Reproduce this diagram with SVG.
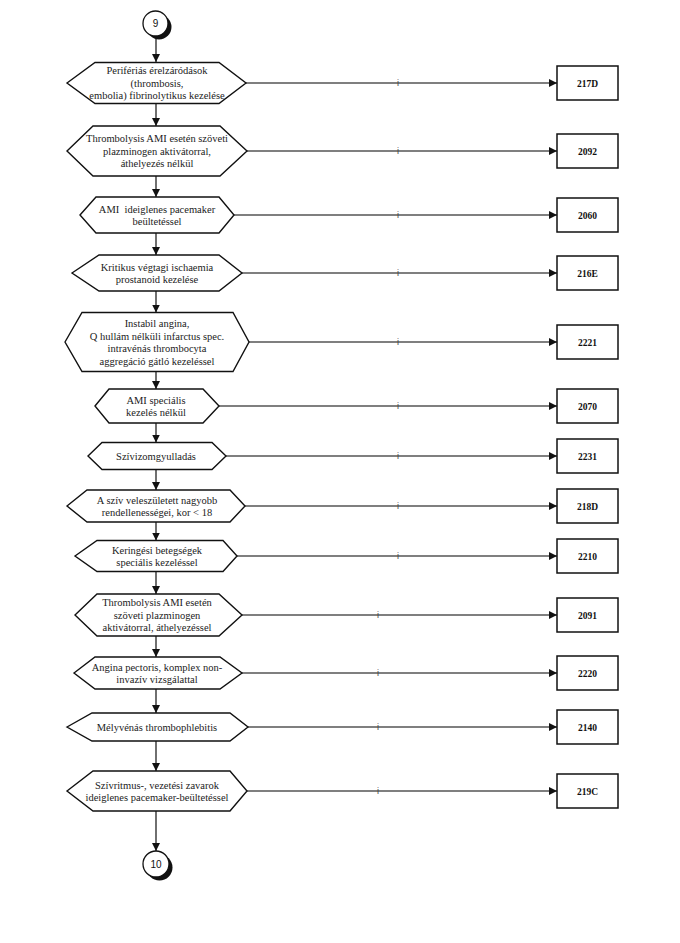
<svg xmlns="http://www.w3.org/2000/svg" width="680" height="943" viewBox="0 0 680 943">
<style>
.hex{fill:#fff;stroke:#111;stroke-width:1.4}
.t{font-family:"Liberation Serif","Times New Roman",serif;font-size:10.5px;fill:#222;text-anchor:middle}
.box{fill:#fff;stroke:#111;stroke-width:1.5}
.bt{font-family:"Liberation Serif","Times New Roman",serif;font-size:9.5px;font-weight:bold;fill:#111;text-anchor:middle}
.spine{stroke:#222;stroke-width:1.3;fill:none}
.link{stroke:#555;stroke-width:1.4;fill:none}
.i{font-family:"Liberation Sans",Arial,sans-serif;font-size:9px;fill:#444;text-anchor:middle}
.ct{font-family:"Liberation Sans",Arial,sans-serif;font-size:10px;fill:#111;text-anchor:middle}
</style>
<defs>
<marker id="ah" viewBox="0 0 10 10" refX="10" refY="5" markerWidth="8" markerHeight="8" markerUnits="userSpaceOnUse" orient="auto">
<path d="M0,0 L10,5 L0,10 Z" fill="#111"/>
</marker>
</defs>

<g id="connectors">
<line class="spine" x1="156" y1="36" x2="156" y2="62" marker-end="url(#ah)"/>
<line class="spine" x1="156" y1="103.5" x2="156" y2="126" marker-end="url(#ah)"/>
<line class="spine" x1="156" y1="176" x2="156" y2="197" marker-end="url(#ah)"/>
<line class="spine" x1="156" y1="233" x2="156" y2="255" marker-end="url(#ah)"/>
<line class="spine" x1="156" y1="291" x2="156" y2="312.5" marker-end="url(#ah)"/>
<line class="spine" x1="156" y1="371.5" x2="156" y2="389" marker-end="url(#ah)"/>
<line class="spine" x1="156" y1="423" x2="156" y2="442.5" marker-end="url(#ah)"/>
<line class="spine" x1="156" y1="469.5" x2="156" y2="490" marker-end="url(#ah)"/>
<line class="spine" x1="156" y1="522" x2="156" y2="540.5" marker-end="url(#ah)"/>
<line class="spine" x1="156" y1="571.5" x2="156" y2="594" marker-end="url(#ah)"/>
<line class="spine" x1="156" y1="636" x2="156" y2="657" marker-end="url(#ah)"/>
<line class="spine" x1="156" y1="689" x2="156" y2="713" marker-end="url(#ah)"/>
<line class="spine" x1="156" y1="741" x2="156" y2="771" marker-end="url(#ah)"/>
<line class="spine" x1="156" y1="811" x2="156" y2="851" marker-end="url(#ah)"/>

<line class="link" x1="246" y1="83" x2="557" y2="83" marker-end="url(#ah)"/>
<line class="link" x1="247" y1="151" x2="557" y2="151" marker-end="url(#ah)"/>
<line class="link" x1="234" y1="215" x2="557" y2="215" marker-end="url(#ah)"/>
<line class="link" x1="242" y1="273" x2="557" y2="273" marker-end="url(#ah)"/>
<line class="link" x1="249" y1="342" x2="557" y2="342" marker-end="url(#ah)"/>
<line class="link" x1="219" y1="406" x2="557" y2="406" marker-end="url(#ah)"/>
<line class="link" x1="226" y1="456" x2="557" y2="456" marker-end="url(#ah)"/>
<line class="link" x1="245" y1="506" x2="557" y2="506" marker-end="url(#ah)"/>
<line class="link" x1="237" y1="556" x2="557" y2="556" marker-end="url(#ah)"/>
<line class="link" x1="242" y1="615" x2="557" y2="615" marker-end="url(#ah)"/>
<line class="link" x1="242" y1="673" x2="557" y2="673" marker-end="url(#ah)"/>
<line class="link" x1="248" y1="727" x2="557" y2="727" marker-end="url(#ah)"/>
<line class="link" x1="247" y1="791" x2="557" y2="791" marker-end="url(#ah)"/>

<text class="i" x="398" y="86">i</text>
<text class="i" x="398" y="154">i</text>
<text class="i" x="398" y="218">i</text>
<text class="i" x="398" y="276">i</text>
<text class="i" x="398" y="345">i</text>
<text class="i" x="398" y="409">i</text>
<text class="i" x="398" y="459">i</text>
<text class="i" x="398" y="509">i</text>
<text class="i" x="398" y="559">i</text>
<text class="i" x="378" y="618">i</text>
<text class="i" x="378" y="676">i</text>
<text class="i" x="378" y="730">i</text>
<text class="i" x="378" y="794">i</text>
</g>

<g id="c9">
<circle cx="159" cy="27" r="12.5" fill="#111"/>
<circle cx="155.5" cy="23.5" r="12.5" fill="#fff" stroke="#111" stroke-width="1.3"/>
<text class="ct" x="155.5" y="27">9</text>
</g>

<g id="n1">
<path class="hex" d="M67,83 L95,62.5 L219,62.5 L246,83 L219,103.5 L95,103.5 Z"/>
<text class="t" x="157" y="74">Perifériás érelzáródások</text>
<text class="t" x="157" y="86.5">(thrombosis,</text>
<text class="t" x="157" y="99">embolia) fibrinolytikus kezelése</text>
</g>
<g id="n2">
<path class="hex" d="M67,151 L93,126 L220,126 L247,151 L220,176 L93,176 Z"/>
<text class="t" x="157" y="142">Thrombolysis AMI esetén szöveti</text>
<text class="t" x="157" y="154.5">plazminogen aktivátorral,</text>
<text class="t" x="157" y="167">áthelyezés nélkül</text>
</g>
<g id="n3">
<path class="hex" d="M80,215 L96,197 L219,197 L234,215 L219,233 L96,233 Z"/>
<text class="t" x="157" y="212.5" xml:space="preserve">AMI  ideiglenes pacemaker</text>
<text class="t" x="157" y="225">beültetéssel</text>
</g>
<g id="n4">
<path class="hex" d="M72,273 L99,255 L219,255 L242,273 L219,291 L99,291 Z"/>
<text class="t" x="157" y="270.5">Kritikus végtagi ischaemia</text>
<text class="t" x="157" y="283">prostanoid kezelése</text>
</g>
<g id="n5">
<path class="hex" d="M65,342 L82,312.5 L233,312.5 L249,342 L233,371.5 L82,371.5 Z"/>
<text class="t" x="157" y="327">Instabil angina,</text>
<text class="t" x="157" y="339.5">Q hullám nélküli infarctus spec.</text>
<text class="t" x="157" y="352">intravénás thrombocyta</text>
<text class="t" x="157" y="364.5">aggregáció gátló kezeléssel</text>
</g>
<g id="n6">
<path class="hex" d="M95,406 L109,389 L203,389 L219,406 L203,423 L109,423 Z"/>
<text class="t" x="156" y="403.5">AMI speciális</text>
<text class="t" x="156" y="416">kezelés nélkül</text>
</g>
<g id="n7">
<path class="hex" d="M88,456 L102,442.5 L212,442.5 L226,456 L212,469.5 L102,469.5 Z"/>
<text class="t" x="156" y="459.5">Szívizomgyulladás</text>
</g>
<g id="n8">
<path class="hex" d="M67,506 L87,490 L230,490 L245,506 L230,522 L87,522 Z"/>
<text class="t" x="157" y="503.5">A szív veleszületett nagyobb</text>
<text class="t" x="157" y="516">rendellenességei, kor &lt; 18</text>
</g>
<g id="n9">
<path class="hex" d="M75,556 L97,540.5 L223,540.5 L237,556 L223,571.5 L97,571.5 Z"/>
<text class="t" x="157" y="553.5">Keringési betegségek</text>
<text class="t" x="157" y="566">speciális kezeléssel</text>
</g>
<g id="n10">
<path class="hex" d="M75,615 L97,594 L219,594 L242,615 L219,636 L97,636 Z"/>
<text class="t" x="157" y="606">Thrombolysis AMI esetén</text>
<text class="t" x="157" y="618.5">szöveti plazminogen</text>
<text class="t" x="157" y="631">aktivátorral, áthelyezéssel</text>
</g>
<g id="n11">
<path class="hex" d="M74,673 L95,657 L220,657 L242,673 L220,689 L95,689 Z"/>
<text class="t" x="157" y="670.5">Angina pectoris, komplex non-</text>
<text class="t" x="157" y="683">invazív vizsgálattal</text>
</g>
<g id="n12">
<path class="hex" d="M67,727 L92,713 L230,713 L248,727 L230,741 L92,741 Z"/>
<text class="t" x="157" y="730.5">Mélyvénás thrombophlebitis</text>
</g>
<g id="n13">
<path class="hex" d="M67,791 L93,771 L230,771 L247,791 L230,811 L93,811 Z"/>
<text class="t" x="157" y="788.5">Szívritmus-, vezetési zavarok</text>
<text class="t" x="157" y="801">ideiglenes pacemaker-beültetéssel</text>
</g>

<g id="c10">
<circle cx="159.5" cy="867.5" r="13" fill="#111"/>
<circle cx="156" cy="864" r="13" fill="#fff" stroke="#111" stroke-width="1.3"/>
<text class="ct" x="156" y="867.5">10</text>
</g>

<g id="b1"><rect class="box" x="557" y="66" width="61" height="34"/><text class="bt" x="587.5" y="86.5">217D</text></g>
<g id="b2"><rect class="box" x="557" y="134" width="61" height="34"/><text class="bt" x="587.5" y="154.5">2092</text></g>
<g id="b3"><rect class="box" x="557" y="198" width="61" height="34"/><text class="bt" x="587.5" y="218.5">2060</text></g>
<g id="b4"><rect class="box" x="557" y="256" width="61" height="34"/><text class="bt" x="587.5" y="276.5">216E</text></g>
<g id="b5"><rect class="box" x="557" y="325" width="61" height="34"/><text class="bt" x="587.5" y="345.5">2221</text></g>
<g id="b6"><rect class="box" x="557" y="389" width="61" height="34"/><text class="bt" x="587.5" y="409.5">2070</text></g>
<g id="b7"><rect class="box" x="557" y="439" width="61" height="34"/><text class="bt" x="587.5" y="459.5">2231</text></g>
<g id="b8"><rect class="box" x="557" y="489" width="61" height="34"/><text class="bt" x="587.5" y="509.5">218D</text></g>
<g id="b9"><rect class="box" x="557" y="539" width="61" height="34"/><text class="bt" x="587.5" y="559.5">2210</text></g>
<g id="b10"><rect class="box" x="557" y="598" width="61" height="34"/><text class="bt" x="587.5" y="618.5">2091</text></g>
<g id="b11"><rect class="box" x="557" y="656" width="61" height="34"/><text class="bt" x="587.5" y="676.5">2220</text></g>
<g id="b12"><rect class="box" x="557" y="710" width="61" height="34"/><text class="bt" x="587.5" y="730.5">2140</text></g>
<g id="b13"><rect class="box" x="557" y="774" width="61" height="34"/><text class="bt" x="587.5" y="794.5">219C</text></g>
</svg>
